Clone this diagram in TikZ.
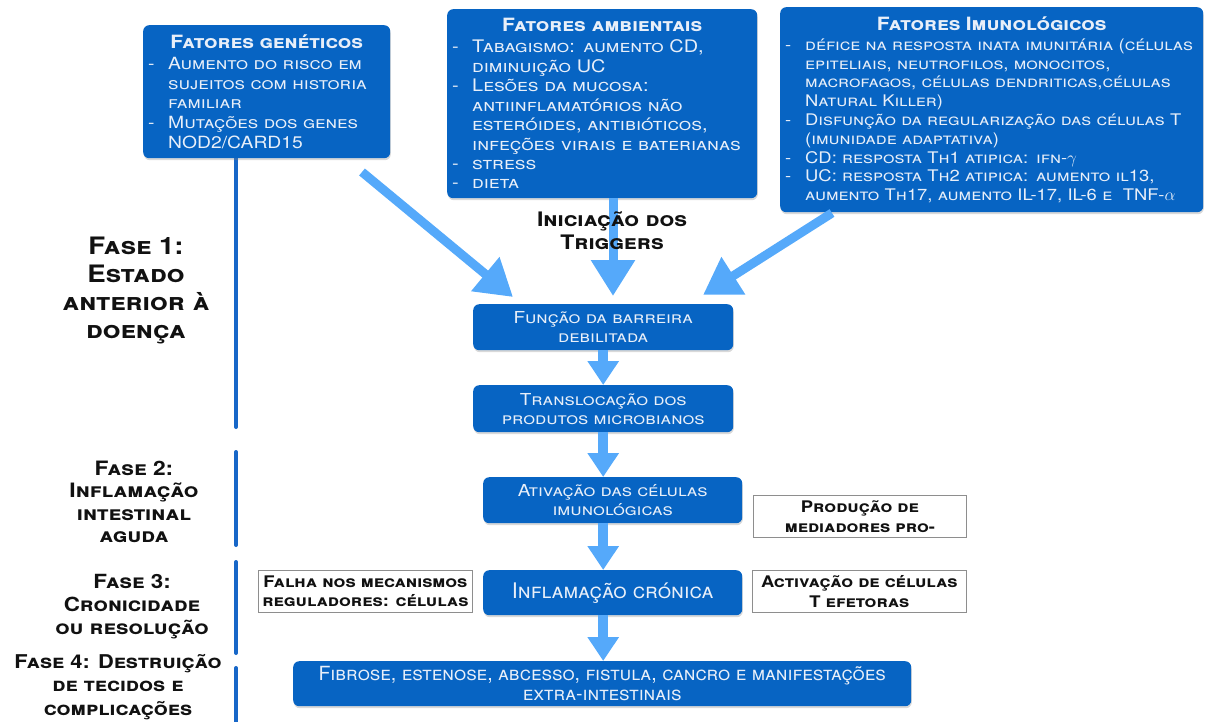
\documentclass[tikz,border=0pt]{standalone}
\usepackage{fontspec}
\setmainfont{TeX Gyre Heros}
\newfontfamily\cpfont[Letters=SmallCaps,FakeStretch=1.15]{TeX Gyre Heros}
\newfontfamily\plainscfont[Letters=SmallCaps]{TeX Gyre Heros}
\usetikzlibrary{calc}
\usetikzlibrary{arrows.meta}
\usetikzlibrary{shadows}
\definecolor{color_box_bg}{HTML}{0764C3}
\definecolor{color_box_text}{HTML}{E8EFF9}
\definecolor{color_arrow}{HTML}{55A9FA}
\definecolor{color_phase_line}{HTML}{1767C8}
\definecolor{color_note_border}{HTML}{8E8E8E}
\definecolor{color_phase_text}{HTML}{111111}
\def\bulletgap{20pt}
\def\boxitem#1{\par\noindent\makebox[\bulletgap][l]{-}#1}
\def\nl{\newline\hspace*{\bulletgap}}
\def\boxtitle#1{{\centering\bfseries #1\par}\vspace{1.5pt}}
\def\phaselinewidth{4pt}

\begin{document}
\begin{tikzpicture}[x=1pt,y=-1pt,
    bluebox/.style={fill=color_box_bg, text=color_box_text, rounded corners=6pt,
        drop shadow={shadow xshift=0.6pt,shadow yshift=-2pt,opacity=0.3}},
    factorbox/.style={bluebox, anchor=north west, inner xsep=5pt, inner ysep=0pt, align=left},
    stepbox/.style={bluebox, anchor=north west, inner sep=0pt, align=center,
        font={\cpfont\fontsize{16.5}{19}\selectfont}},
    notebox/.style={draw=color_note_border, line width=0.8pt, fill=white, text=color_phase_text,
        anchor=north west, inner sep=0pt, align=center,
        font={\cpfont\bfseries\fontsize{16}{19.5}\selectfont}},
    phaselabel/.style={text=color_phase_text, align=center, inner sep=0pt},
    triggerarrow/.style={color_arrow, line width=9pt, -{Triangle[width=42pt,length=36pt]}},
    steparrow/.style={color_arrow, line width=10pt, -{Triangle[width=30pt,length=24pt]}}]
    \useasboundingbox (0,0) rectangle (1206,721);
    % phase separators
    \foreach \ya/\yb in {158/427,452/545,562/653,668/724}
        \draw[color_phase_line, line width=\phaselinewidth, line cap=round] (236,\ya) -- (236,\yb);
    % factor boxes
    \node[factorbox, text width=237pt, minimum width=247pt, minimum height=133pt,
        font={\cpfont\fontsize{16.8}{19.6}\selectfont}] (gen) at (143,25) {%
        \boxtitle{\fontsize{18.3}{21}\selectfont Fatores genéticos}
        \boxitem{Aumento do risco em\nl sujeitos com historia\nl familiar}
        \boxitem{Mutações dos genes\nl NOD2/CARD15}};
    \node[factorbox, text width=300pt, minimum width=310pt, minimum height=189pt,
        font={\cpfont\fontsize{17.3}{19.45}\selectfont}] (env) at (447,9) {%
        \boxtitle{\fontsize{18.3}{21}\selectfont Fatores ambientais}
        \boxitem{Tabagismo: aumento CD,\nl diminuição UC}
        \boxitem{Lesões da mucosa:\nl antiinflamatórios não\nl esteróides, antibióticos,\nl infeções virais e baterianas}
        \boxitem{stress}
        \boxitem{dieta}};
    \node[factorbox, text width=413pt, minimum width=423pt, minimum height=205pt,
        font={\cpfont\fontsize{16}{18.8}\selectfont}] (imm) at (780,7) {%
        \boxtitle{\fontsize{18.3}{20.5}\selectfont Fatores Imunológicos}
        \boxitem{défice na resposta inata imunitária (células\nl epiteliais, neutrofilos, monocitos,\nl macrofagos, células dendriticas,células\nl Natural Killer)}
        \boxitem{Disfunção da regularização das células T\nl (imunidade adaptativa)}
        \boxitem{CD: resposta Th1 atipica: ifn-$\gamma$}
        \boxitem{UC: resposta Th2 atipica: aumento il13,\nl aumento Th17, aumento IL-17, IL-6 e\ \ TNF-$\alpha$}};
    % phases
    \node[phaselabel, font={\cpfont\bfseries\fontsize{24}{28}\selectfont}] (fase1) at (136,290)
        {Fase 1:\\Estado\\anterior à\\doença};
    \node[phaselabel, font={\cpfont\bfseries\fontsize{19.8}{22.5}\selectfont}] (fase2) at (134,502)
        {Fase 2:\\Inflamação\\intestinal\\aguda};
    \node[phaselabel, font={\cpfont\bfseries\fontsize{19.5}{23}\selectfont}] (fase3) at (132,607)
        {Fase 3:\\Cronicidade\\ou resolução};
    \node[phaselabel, font={\cpfont\bfseries\fontsize{19}{23.5}\selectfont}] (fase4) at (118,687)
        {Fase 4: Destruição\\de tecidos e\\complicações};
    % the pathway
    \node[stepbox, minimum width=260pt, minimum height=46pt] (barrier) at (473,304)
        {Função da barreira\\debilitada};
    \node[stepbox, minimum width=260pt, minimum height=47pt] (transl) at (473,385)
        {Translocação dos\\produtos microbianos};
    \node[stepbox, minimum width=259pt, minimum height=46pt] (activ) at (483,477)
        {Ativação das células\\imunológicas};
    \node[stepbox, minimum width=259pt, minimum height=45pt,
        font={\plainscfont\fontsize{21.5}{22}\selectfont}] (inflam) at (483,570)
        {Inflamação crónica};
    \node[stepbox, minimum width=618pt, minimum height=45pt,
        font={\plainscfont\fontsize{19.5}{20}\selectfont}] (fibr) at (293,661)
        {Fibrose, estenose, abcesso, fistula, cancro e manifestações\\extra-intestinais};
    % side notes
    \node[notebox, minimum width=213pt, minimum height=42pt] (prod) at (753,495)
        {Produção de\\mediadores pro-};
    \node[notebox, minimum width=214pt, minimum height=42pt] (falha) at (258,570)
        {Falha nos mecanismos\\reguladores: células};
    \node[notebox, minimum width=214pt, minimum height=42pt] (tefet) at (752,570)
        {Activação de células\\T efetoras};
    % triggers
    \coordinate (gen_tail) at (362,172);
    \coordinate (gen_tip) at (513,297);
    \coordinate (env_tip) at (613,296);
    \coordinate (imm_tail) at (832,213);
    \coordinate (imm_tip) at (703,295);
    \draw[triggerarrow] (gen_tail) -- (gen_tip);
    \draw[triggerarrow] (env.south -| env_tip) -- (env_tip);
    \draw[triggerarrow] (imm_tail) -- (imm_tip);
    \node[phaselabel, font={\cpfont\bfseries\fontsize{20}{23}\selectfont}] (trig) at (612,231)
        {Iniciação dos\\Triggers};
    % steps
    \draw[steparrow] (barrier.south) -- (transl.north);
    \draw[steparrow] (transl.south) -- (transl.south |- activ.north);
    \draw[steparrow] (transl.south |- activ.south) -- (transl.south |- inflam.north);
    \draw[steparrow] (transl.south |- inflam.south) -- (transl.south |- fibr.north);
\end{tikzpicture}
\end{document}
